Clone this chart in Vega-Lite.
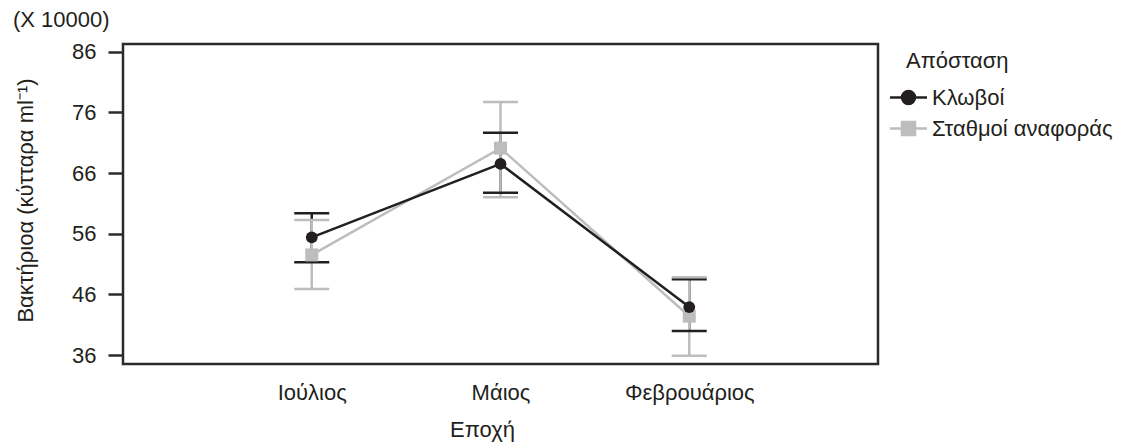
{
  "$schema": "https://vega.github.io/schema/vega-lite/v6.json",
  "width": 755,
  "height": 320,
  "autosize": "none",
  "padding": {"left": 123, "top": 44, "right": 248, "bottom": 79},
  "background": "white",
  "config": {
    "font": "Liberation Sans",
    "view": {"stroke": "#2b2b2b", "strokeWidth": 2.5},
    "axis": {"labelColor": "#231f20", "titleColor": "#231f20", "grid": false, "titleFontWeight": "normal"}
  },
  "title": {
    "text": "(X 10000)",
    "anchor": "start",
    "frame": "group",
    "dx": -110,
    "offset": 9,
    "fontSize": 22,
    "fontWeight": "normal",
    "color": "#231f20",
    "font": "Liberation Sans"
  },
  "data": {
    "values": [
      {"epoch": "Ιούλιος", "group": "Κλωβοί", "mean": 55.4, "low": 51.28, "high": 59.36},
      {"epoch": "Μάιος", "group": "Κλωβοί", "mean": 67.5, "low": 62.76, "high": 72.65},
      {"epoch": "Φεβρουάριος", "group": "Κλωβοί", "mean": 43.9, "low": 39.96, "high": 48.48},
      {"epoch": "Ιούλιος", "group": "Σταθμοί αναφοράς", "mean": 52.5, "low": 46.9, "high": 58.25},
      {"epoch": "Μάιος", "group": "Σταθμοί αναφοράς", "mean": 70.1, "low": 62.0, "high": 77.7},
      {"epoch": "Φεβρουάριος", "group": "Σταθμοί αναφοράς", "mean": 42.4, "low": 35.9, "high": 48.8}
    ]
  },
  "encoding": {
    "x": {
      "field": "epoch",
      "type": "nominal",
      "sort": ["Ιούλιος", "Μάιος", "Φεβρουάριος"],
      "scale": {"type": "point", "padding": 1.12},
      "axis": {
        "title": "Εποχή",
        "labelAngle": 0,
        "ticks": false,
        "domain": false,
        "labelFontSize": 22,
        "labelPadding": 18,
        "titleFontSize": 22,
        "titlePadding": 16,
        "titleX": 359
      }
    },
    "color": {
      "field": "group",
      "type": "nominal",
      "scale": {"domain": ["Κλωβοί", "Σταθμοί αναφοράς"], "range": ["#231f20", "#bdbdbd"]},
      "legend": {
        "title": "Απόσταση",
        "orient": "none",
        "legendX": 774,
        "legendY": 7,
        "padding": 0,
        "titleFontSize": 22,
        "titleFontWeight": "normal",
        "titleColor": "#231f20",
        "titlePadding": 13,
        "labelFontSize": 22,
        "labelLimit": 400,
        "labelColor": "#231f20",
        "labelOffset": 12,
        "symbolSize": 400,
        "rowPadding": 8,
        "encode": {
          "title": {"update": {"dx": {"value": 9}}},
          "symbols": {
            "update": {
              "shape": {"signal": "datum.value === 'Κλωβοί' ? 'M-1.85,0L1.85,0M-0.65,0A0.65,0.65 0 1,0 0.65,0A0.65,0.65 0 1,0 -0.65,0Z' : 'M-1.85,0L1.85,0M-0.65,-0.65L0.65,-0.65L0.65,0.65L-0.65,0.65Z'"},
              "fill": {"signal": "datum.value === 'Κλωβοί' ? '#231f20' : '#a9a9a9'"},
              "stroke": {"signal": "datum.value === 'Κλωβοί' ? '#231f20' : '#bdbdbd'"},
              "strokeWidth": {"value": 2.5},
              "opacity": {"value": 1},
              "fillOpacity": {"value": 1},
              "strokeOpacity": {"value": 1}
            }
          }
        }
      }
    }
  },
  "layer": [
    {
      "mark": {"type": "rule", "strokeWidth": 2.5, "opacity": 1},
      "encoding": {
        "y": {
          "field": "low",
          "type": "quantitative",
          "scale": {"domain": [34.52, 87.27], "nice": false, "zero": false},
          "axis": {
            "title": "Βακτήριοα (κύτταρα ml⁻¹)",
            "values": [36, 46, 56, 66, 76, 86],
            "domain": false,
            "tickColor": "#2b2b2b",
            "tickWidth": 2.5,
            "tickSize": 15,
            "labelFontSize": 22,
            "labelPadding": 12,
            "titleFontSize": 22,
            "titlePadding": 34,
            "titleY": 156
          }
        },
        "y2": {"field": "high"}
      }
    },
    {
      "mark": {"type": "tick", "thickness": 2.5, "size": 35, "orient": "horizontal", "opacity": 1},
      "encoding": {"y": {"field": "high", "type": "quantitative"}}
    },
    {
      "mark": {"type": "tick", "thickness": 2.5, "size": 35, "orient": "horizontal", "opacity": 1},
      "encoding": {"y": {"field": "low", "type": "quantitative"}}
    },
    {
      "transform": [{"filter": "datum.group === 'Σταθμοί αναφοράς'"}],
      "mark": {"type": "line", "strokeWidth": 2.5},
      "encoding": {"y": {"field": "mean", "type": "quantitative"}}
    },
    {
      "transform": [{"filter": "datum.group === 'Κλωβοί'"}],
      "mark": {"type": "line", "strokeWidth": 2.5},
      "encoding": {"y": {"field": "mean", "type": "quantitative"}}
    },
    {
      "transform": [{"filter": "datum.group === 'Σταθμοί αναφοράς'"}],
      "mark": {"type": "point", "shape": "square", "filled": true, "size": 169, "opacity": 1},
      "encoding": {"y": {"field": "mean", "type": "quantitative"}}
    },
    {
      "transform": [{"filter": "datum.group === 'Κλωβοί'"}],
      "mark": {"type": "point", "shape": "circle", "filled": true, "size": 140, "opacity": 1},
      "encoding": {"y": {"field": "mean", "type": "quantitative"}}
    }
  ]
}
